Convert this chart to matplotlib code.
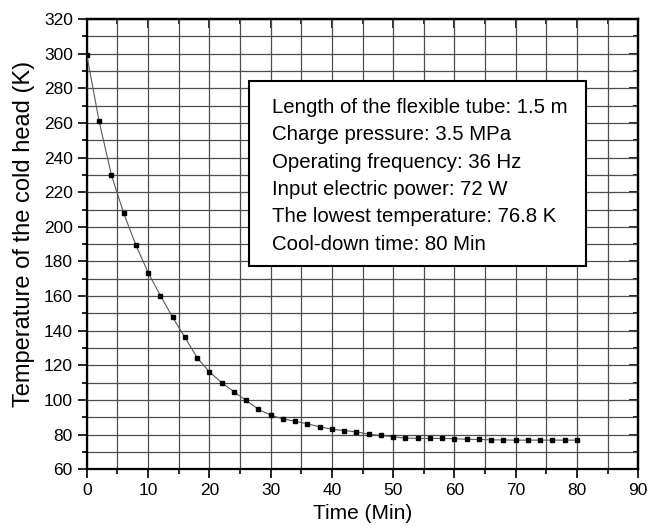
import matplotlib
matplotlib.use('Agg')
import matplotlib.pyplot as plt
from matplotlib.patches import Rectangle
from matplotlib.ticker import MultipleLocator

plt.rcParams['font.family'] = ['Liberation Sans', 'DejaVu Sans']

# cool-down data (time in min, cold head temperature in K)
time_min = [0, 2, 4, 6, 8, 10, 12, 14, 16, 18, 20, 22, 24, 26, 28, 30, 32, 34, 36, 38, 40,
            42, 44, 46, 48, 50, 52, 54, 56, 58, 60, 62, 64, 66, 68, 70, 72, 74, 76, 78, 80]
temp_k = [299, 261, 230, 208, 189.4, 173.6, 160.3, 147.8, 136.2, 124.4, 116.2, 110, 104.8,
          99.7, 94.6, 91.2, 89.1, 87.7, 86.2, 84.5, 83.1, 82.3, 81.6, 80.2, 79.5, 78.7,
          78.0, 77.8, 77.8, 77.8, 77.6, 77.3, 77.2, 77.0, 76.9, 76.8, 76.8, 76.8, 76.8,
          76.8, 76.8]

info_lines = [
    'Length of the flexible tube: 1.5 m',
    'Charge pressure: 3.5 MPa',
    'Operating frequency: 36 Hz',
    'Input electric power: 72 W',
    'The lowest temperature: 76.8 K',
    'Cool-down time: 80 Min',
]

fig = plt.figure(figsize=(6.58, 5.29), dpi=100)
ax = fig.add_axes([0.132, 0.113, 0.838, 0.851])

ax.plot(time_min, temp_k, color='0.35', lw=0.8, marker='s', markersize=3.0,
        markerfacecolor='black', markeredgecolor='black', zorder=3)

ax.set_xlim(0, 90)
ax.set_ylim(60, 320)
ax.xaxis.set_major_locator(MultipleLocator(10))
ax.xaxis.set_minor_locator(MultipleLocator(5))
ax.yaxis.set_major_locator(MultipleLocator(20))
ax.yaxis.set_minor_locator(MultipleLocator(10))

ax.grid(True, which='both', color='0.3', lw=0.9)
ax.set_axisbelow(True)

for s in ax.spines.values():
    s.set_linewidth(1.6)

ax.tick_params(which='both', direction='out', width=1.2, labelsize=12.5,
               top=False, right=False, pad=3.6)
ax.tick_params(which='major', length=6.5)
ax.tick_params(which='minor', length=3.6)
# mirrored ticks on top/right point inward
ax2 = ax.secondary_xaxis('top')
ax2.xaxis.set_major_locator(MultipleLocator(10))
ax2.xaxis.set_minor_locator(MultipleLocator(5))
ax2.tick_params(which='both', direction='in', width=1.2, labeltop=False)
ax2.tick_params(which='major', length=6.5)
ax2.tick_params(which='minor', length=3.6)
ax3 = ax.secondary_yaxis('right')
ax3.yaxis.set_major_locator(MultipleLocator(20))
ax3.yaxis.set_minor_locator(MultipleLocator(10))
ax3.tick_params(which='both', direction='in', width=1.2, labelright=False)
ax3.tick_params(which='major', length=6.5)
ax3.tick_params(which='minor', length=3.6)
ax2.spines['top'].set_linewidth(1.6)
ax3.spines['right'].set_linewidth(1.6)

ax.set_xlabel('Time (Min)', fontsize=15, labelpad=4)
ax.set_ylabel('Temperature of the cold head (K)', fontsize=17)
ax.yaxis.set_label_coords(-0.094, 0.522)

# info box
ax.add_patch(Rectangle((26.5, 177.3), 55.0, 106.9, facecolor='white',
                       edgecolor='black', lw=1.5, zorder=4))
for i, line in enumerate(info_lines):
    ax.text(30.2, 265.7 - 15.77 * i, line, fontsize=14.7, va='baseline',
            ha='left', zorder=5)

fig.savefig('out.png', dpi=100)
